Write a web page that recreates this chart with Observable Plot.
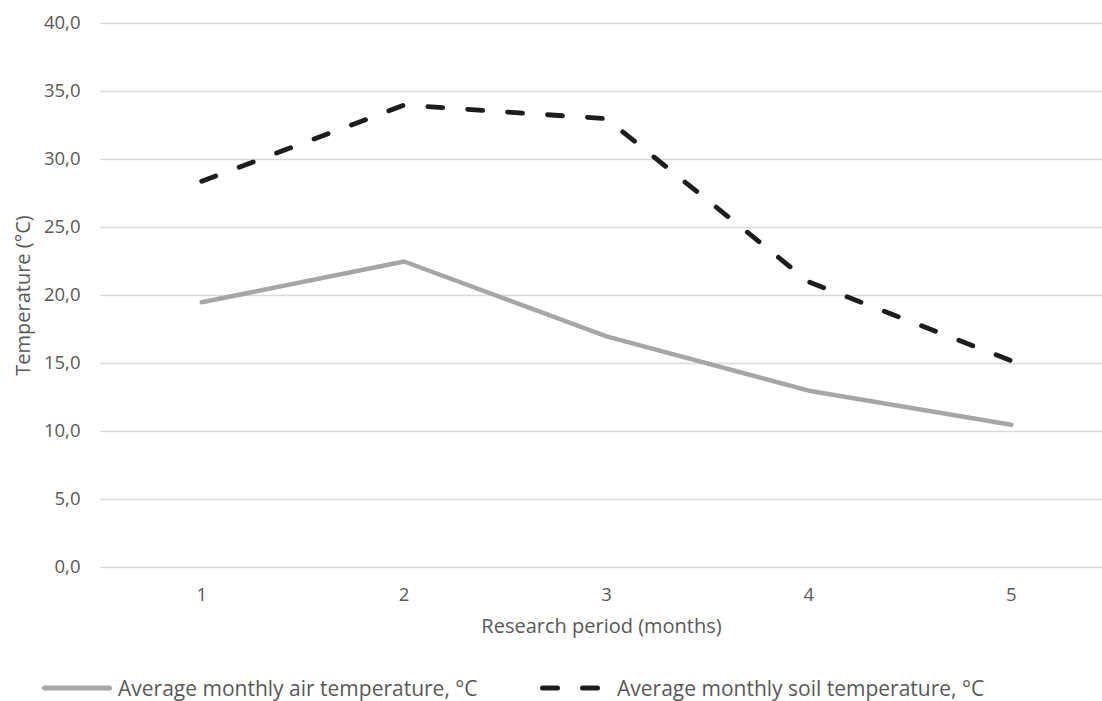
<!DOCTYPE html>
<html>
<head>
<meta charset="utf-8">
<script src="https://cdn.jsdelivr.net/npm/d3@7"></script>
<script src="https://cdn.jsdelivr.net/npm/@observablehq/plot@0.6"></script>
<style>
  html, body { margin: 0; padding: 0; background: #fff; }
  body { font-family: "Open Sans", sans-serif; color: #595959; }
  #legend { position: relative; width: 1102px; height: 41px; }
  .item { position: absolute; top: 7px; height: 41px; display: flex; align-items: center; font-size: 21px; color: #595959; white-space: nowrap; }
  .item svg { margin-right: 0px; }
</style>
</head>
<body>
<div id="chart"></div>
<div id="legend"></div>
<script>
const months = [1, 2, 3, 4, 5];
const airTemp = [19.5, 22.5, 17.0, 13.0, 10.5];
const soilTemp = [28.4, 34.0, 33.0, 21.0, 15.2];
const seriesNames = ["Average monthly air temperature, °C", "Average monthly soil temperature, °C"];
const yTicks = [0, 5, 10, 15, 20, 25, 30, 35, 40];
const xTitle = "Research period (months)";
const yTitle = "Temperature (°C)";

const data = [
  ...months.map((m, i) => ({month: m, temp: airTemp[i], series: seriesNames[0]})),
  ...months.map((m, i) => ({month: m, temp: soilTemp[i], series: seriesNames[1]}))
];

const fmt = d => d.toFixed(1).replace(".", ",");
const W = 1102, H = 660;

const chart = Plot.plot({
  width: W,
  height: H,
  marginLeft: 100,
  marginRight: 0,
  marginTop: 23,
  marginBottom: H - 567,
  style: {fontFamily: "'Open Sans', sans-serif", fontSize: "18px", color: "#595959", background: "#fff"},
  x: {domain: [0.5, 5.5], range: [100, 1112]},
  y: {domain: [0, 40]},
  marks: [
    Plot.gridY(yTicks, {stroke: "#d9d9d9", strokeOpacity: 1, strokeWidth: 1.5}),
    Plot.axisY(yTicks, {tickSize: 0, tickPadding: 20, tickFormat: fmt, fill: "#595959", fontSize: 18.5, label: null}),
    Plot.axisX(months, {tickSize: 0, tickPadding: 20, tickFormat: d => String(d), fill: "#595959", fontSize: 18.5, label: null}),
    Plot.text([xTitle], {text: d => d, frameAnchor: "bottom", dy: 59, fontSize: 20, fill: "#595959", lineAnchor: "middle", textAnchor: "middle"}),
    Plot.text([yTitle], {text: d => d, frameAnchor: "left", dx: -77, rotate: -90, fontSize: 20, fill: "#595959", lineAnchor: "middle", textAnchor: "middle"}),
    Plot.line(data.filter(d => d.series === seriesNames[0]), {x: "month", y: "temp", stroke: "#a6a6a8", strokeWidth: 4.5, strokeLinejoin: "round", strokeLinecap: "round"}),
    Plot.line(data.filter(d => d.series === seriesNames[1]), {x: "month", y: "temp", stroke: "#1e1c1d", strokeWidth: 4.8, strokeDasharray: "15,25", strokeLinecap: "round", strokeLinejoin: "round"})
  ]
});
document.getElementById("chart").appendChild(chart);

const legend = document.getElementById("legend");
const swatches = [
  {left: 39, stroke: "#a6a6a8", dash: null, x2: 70.5, width: 79},
  {left: 537, stroke: "#1e1c1d", dash: "15,25", x2: 60.5, width: 80}
];
seriesNames.forEach((name, i) => {
  const s = swatches[i];
  const item = document.createElement("div");
  item.className = "item";
  item.style.left = s.left + "px";
  item.innerHTML = `<svg width="${s.width}" height="10"><line x1="5.5" y1="5" x2="${s.x2}" y2="5" stroke="${s.stroke}" stroke-width="5" stroke-linecap="round" ${s.dash ? `stroke-dasharray="${s.dash}"` : ""}/></svg><span>${name}</span>`;
  legend.appendChild(item);
});
</script>
</body>
</html>
